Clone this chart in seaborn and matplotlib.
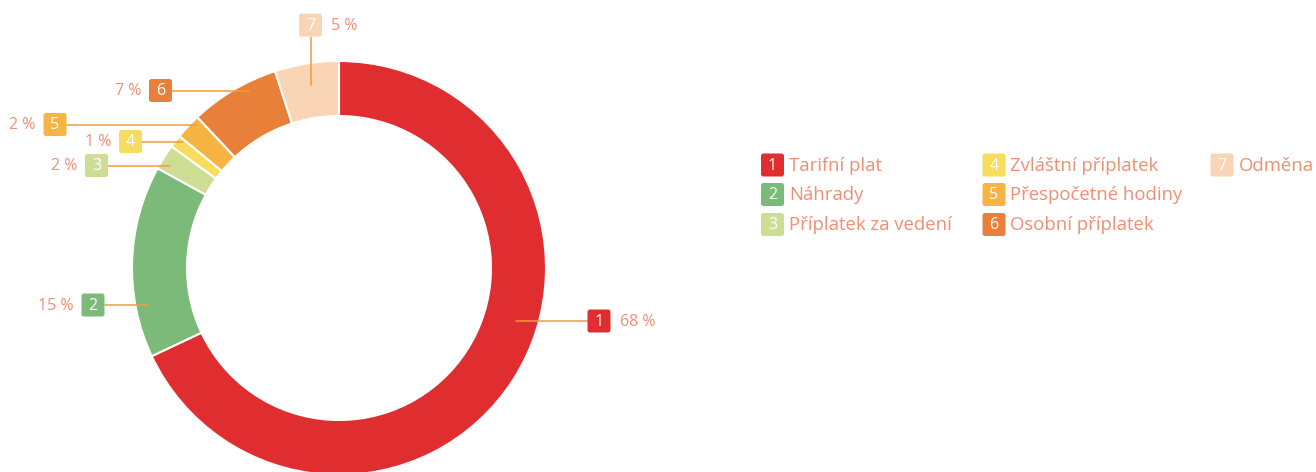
import numpy as np
import matplotlib
matplotlib.use('Agg')
import matplotlib.pyplot as plt
import seaborn as sns
from matplotlib.patches import FancyBboxPatch

# Data
categories = ['Tarifní plat', 'Náhrady', 'Příplatek za vedení', 'Zvláštní příplatek',
              'Přespočetné hodiny', 'Osobní příplatek', 'Odměna']
numbers = ['1', '2', '3', '4', '5', '6', '7']
shares = [68, 15, 2, 1, 2, 7, 5]
colors = ['#E02D2F', '#7BBA78', '#CEDD94', '#F7DC5E', '#F7B442', '#E8803A', '#F9D5B5']

# Layout (pixels, y measured from top)
W, H = 1316, 472
cx, cy, R, ring = 339, 268, 207, 55
text_col = '#EF8F73'
line_col = '#F29B3E'
# box centre, side of percent text, leader radius, vertical leader?
label_box = [(599, 321), (93, 305), (96.5, 165.5), (130.5, 141.5), (55, 124.5), (160.5, 90.5), (310.5, 25)]
label_side = ['right', 'left', 'left', 'left', 'left', 'left', 'right']
leader_r = [185, 195, 198, 201, 202, 199, 185]
leader_vertical = [False, False, False, False, False, False, True]
legend_x = [772.5, 994, 1222]
legend_y = [165, 194.5, 224.5]

sns.set_theme(style='white')
plt.rcParams['font.family'] = ['Open Sans', 'DejaVu Sans']

fig = plt.figure(figsize=(W / 100, H / 100), dpi=100)
ax = fig.add_axes([0, 0, 1, 1])

ax.pie(shares, colors=colors, startangle=90, counterclock=False,
       radius=R, center=(cx, H - cy),
       wedgeprops=dict(width=ring, edgecolor='white', linewidth=1.5))

BOX = 23


def num_box(x, y, color, label, fs):
    ax.add_patch(FancyBboxPatch((x - BOX / 2, H - y - BOX / 2), BOX, BOX,
                                boxstyle='round,pad=0,rounding_size=2.5',
                                fc=color, ec='none', zorder=5))
    ax.text(x, H - y - 0.5, label, color='white', fontsize=fs, ha='center', va='center', zorder=6)


for i, share in enumerate(shares):
    bx, by = label_box[i]
    if leader_vertical[i]:
        dx = bx - cx
        ay = cy - np.sqrt(leader_r[i] ** 2 - dx ** 2)
        ax.plot([bx, bx], [H - ay, H - (by + BOX / 2)], color=line_col, lw=1.1, zorder=4)
    else:
        dy = by - cy
        sgn = 1 if bx > cx else -1
        axx = cx + sgn * np.sqrt(leader_r[i] ** 2 - dy ** 2)
        ax.plot([axx, bx - sgn * BOX / 2], [H - by, H - by], color=line_col, lw=1.1, zorder=4)
    num_box(bx, by, colors[i], numbers[i], 11.5)
    if label_side[i] == 'right':
        ax.text(bx + BOX / 2 + 9, H - by - 0.5, f'{share} %', color=text_col, fontsize=11.5,
                ha='left', va='center')
    else:
        ax.text(bx - BOX / 2 - 8, H - by - 0.5, f'{share} %', color=text_col, fontsize=11.5,
                ha='right', va='center')

# Legend
for i, name in enumerate(categories):
    lx = legend_x[i // 3]
    ly = legend_y[i % 3]
    num_box(lx, ly, colors[i], numbers[i], 11.5)
    ax.text(lx + BOX / 2 + 5, H - ly - 1, name, color=text_col, fontsize=13.3,
            ha='left', va='center')

ax.set_xlim(0, W)
ax.set_ylim(0, H)
ax.set_aspect('equal')
ax.axis('off')

fig.savefig('out.png', dpi=100)
